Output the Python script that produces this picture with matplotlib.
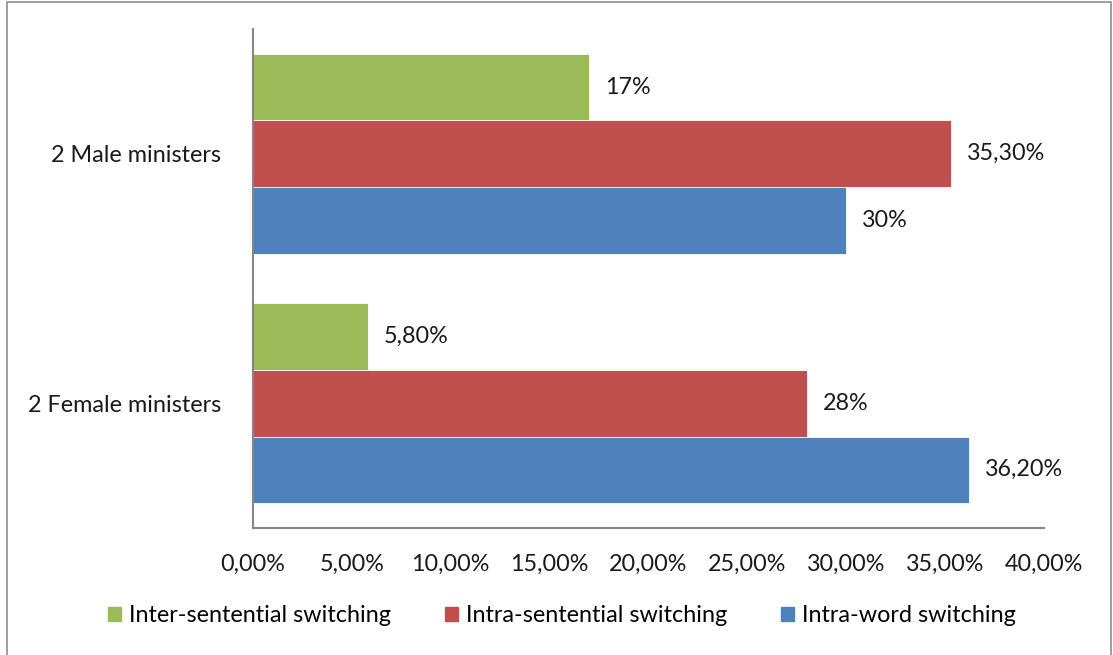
import matplotlib.pyplot as plt
from matplotlib.patches import Rectangle

plt.rcParams["font.family"] = ["Lato", "DejaVu Sans"]

groups = ["2 Female ministers", "2 Male ministers"]
series = ["Inter-sentential switching", "Intra-sentential switching", "Intra-word switching"]
colors = ["#9BBB59", "#C0504D", "#4F81BD"]
# values in percent, per series, ordered as groups
inter_sentential = [5.8, 17.0]
intra_sentential = [28.0, 35.3]
intra_word = [36.2, 30.0]
labels = [["5,80%", "17%"], ["28%", "35,30%"], ["36,20%", "30%"]]
xticks = [0, 5, 10, 15, 20, 25, 30, 35, 40]
xtick_labels = ["0,00%", "5,00%", "10,00%", "15,00%", "20,00%", "25,00%", "30,00%", "35,00%", "40,00%"]

FS = 16.8
W, H = 1113, 655
fig = plt.figure(figsize=(W / 100, H / 100), dpi=100)
ax = fig.add_axes([253 / W, 1 - 528 / H, (1044 - 253) / W, (528 - 29) / H])

h = 0.8 / 3
offsets = [h, 0, -h]
for vals, off, col, labs in zip([inter_sentential, intra_sentential, intra_word], offsets, colors, labels):
    ys = [i + off for i in range(len(groups))]
    ax.barh(ys, vals, height=h, color=col, edgecolor="white", linewidth=0.6)
    for y, v, t in zip(ys, vals, labs):
        ax.text(v + 0.8, y, t, va="center", ha="left", fontsize=FS, color="#1a1a1a")

ax.set_xlim(0, 40)
ax.set_ylim(-0.5, 1.5)
ax.set_xticks(xticks)
ax.set_xticklabels(xtick_labels, fontsize=FS, color="#1a1a1a")
ax.set_yticks(range(len(groups)))
ax.set_yticklabels(groups, fontsize=FS, color="#1a1a1a")
ax.tick_params(axis="both", length=0)
ax.tick_params(axis="x", pad=18.5)
ax.tick_params(axis="y", pad=23)
for s in ["top", "right"]:
    ax.spines[s].set_visible(False)
for s in ["left", "bottom"]:
    ax.spines[s].set_color("#868686")
    ax.spines[s].set_linewidth(1.5)

handles = [Rectangle((0, 0), 1, 1, color=c) for c in colors]
fig.legend(handles, series, loc="center", bbox_to_anchor=(562 / W, 1 - 616 / H),
           ncol=3, frameon=False, fontsize=FS, handlelength=0.55, handleheight=0.55,
           handletextpad=0.35, columnspacing=2.3)

# outer chart border
fig.patches.append(Rectangle((7 / W, -0.05), (1111 - 7) / W, 1.05 - 1.5 / H,
                             transform=fig.transFigure, fill=False,
                             edgecolor="#8c8c8c", linewidth=1.2))

fig.savefig("out.png", dpi=100)
